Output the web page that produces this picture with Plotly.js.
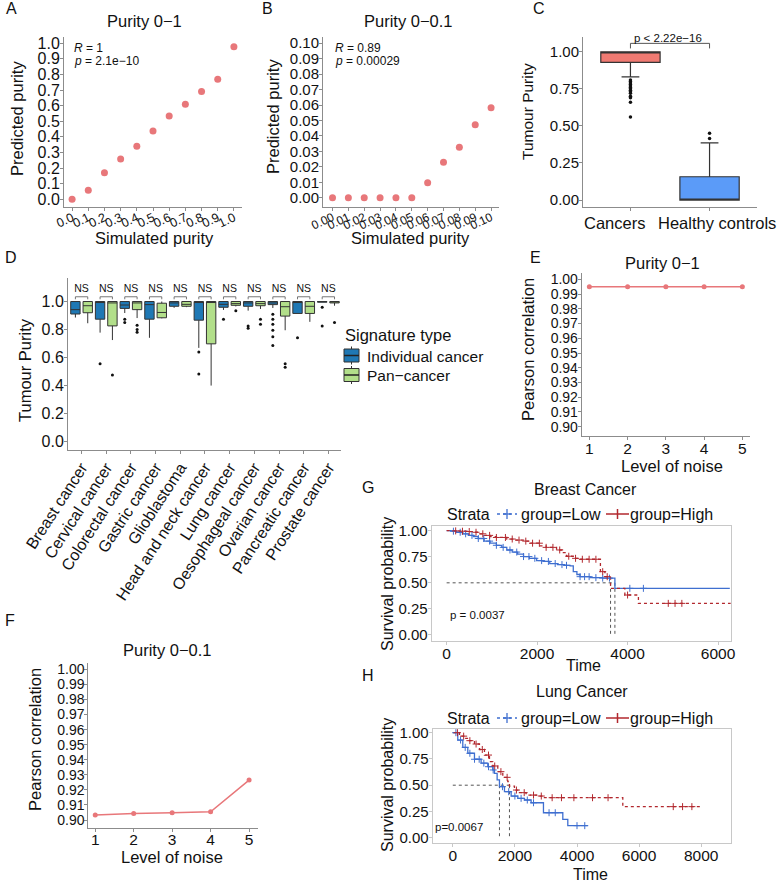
<!DOCTYPE html>
<html><head><meta charset="utf-8">
<script src="https://cdn.plot.ly/plotly-3.0.1.min.js"></script>
<style>html,body{margin:0;padding:0;background:#fff}#chart{width:778px;height:883px}</style>
</head><body><div id="chart"></div>
<script>
// ---------- Panel A ----------
const simA = [0.0,0.1,0.2,0.3,0.4,0.5,0.6,0.7,0.8,0.9,1.0];
const predA = [0.0,0.058,0.17,0.258,0.34,0.438,0.534,0.609,0.69,0.769,0.978];
// ---------- Panel B ----------
const simB = [0.00,0.01,0.02,0.03,0.04,0.05,0.06,0.07,0.08,0.09,0.10];
const predB = [0,0,0,0,0,0,0.0097,0.0229,0.0326,0.0473,0.0583];
// ---------- Panel C ----------
const groupsC = ['Cancers','Healthy controls'];
const q1C = [0.929, 0.0];
const medC = [1.0, 0.0];
const q3C = [1.0, 0.157];
const lowC = [0.831, 0.0];
const upC = [1.0, 0.386];
const outCancers = [0.81,0.80,0.79,0.78,0.77,0.76,0.75,0.74,0.73,0.72,0.70,0.69,0.66,0.56];
const outHealthy = [0.416,0.45];
// ---------- Panel D ----------
const cancersD = ['Breast cancer','Cervical cancer','Colorectal cancer','Gastric cancer','Glioblastoma','Head and neck cancer','Lung cancer','Oesophageal cancer','Ovarian cancer','Pancreatic cancer','Prostate cancer'];
const signatureTypes = ['Individual cancer','Pan\u2212cancer'];
const indQ1 = [0.911,0.874,0.951,0.874,0.966,0.867,0.959,0.966,0.978,0.915,0.995];
const indMed = [0.942,0.995,0.975,0.978,0.99,0.998,0.98,0.99,0.99,0.998,1.0];
const indQ3 = [1,1,1,1,1,1,1,1,1,1,1];
const indLow = [0.886,0.778,0.918,0.741,0.955,0.669,0.94,0.935,0.954,0.915,0.995];
const indUp = [1,1,1,1,1,1,1,1,1,1,1];
const indOut = [[],[0.556],[0.874,0.85],[],[],[0.64,0.483],[0.874],[0.826,0.81],[0.91,0.874,0.838,0.795,0.749,0.686],[0.741],[0.96,0.826]];
const panQ1 = [0.92,0.826,0.942,0.884,0.966,0.698,0.973,0.97,0.896,0.915,0.99];
const panMed = [0.97,0.99,0.99,0.922,0.98,1.0,0.985,0.985,0.963,0.966,1.0];
const panQ3 = [1,1,1,0.988,1,1,1,1,1,1,1];
const panLow = [0.845,0.725,0.882,0.88,0.96,0.40,0.965,0.947,0.795,0.855,0.97];
const panUp = [1,1,1,1,1,1,1,1,1,1,1];
const panOut = [[],[0.476],[0.83,0.80,0.78],[],[],[],[0.935],[0.874,0.838],[0.556,0.53],[],[0.85]];
const sigD = ['NS','NS','NS','NS','NS','NS','NS','NS','NS','NS','NS'];
// ---------- Panel E / F ----------
const noiseLevels = [1,2,3,4,5];
const corrE = [0.995,0.995,0.995,0.995,0.995];
const corrF = [0.9033,0.9044,0.9048,0.9055,0.9265];
// ---------- Panel G (Breast) ----------
const strata = ['group=Low','group=High'];
const gLowT = [0,100,220,350,480,590,700,830,960,1100,1220,1330,1450,1570,1700,1830,1990,2130,2280,2450,2600,2730,2800,2880,2950,3170,3450,3720,6260];
const gLowS = [1.0,0.995,0.985,0.97,0.955,0.943,0.925,0.9,0.88,0.86,0.84,0.815,0.795,0.775,0.752,0.735,0.713,0.705,0.685,0.675,0.668,0.662,0.607,0.58,0.559,0.55,0.545,0.447,0.447];
const gHighT = [0,150,300,450,590,700,830,960,1100,1330,1500,1700,1850,2060,2200,2430,2550,2650,2800,2950,3380,3400,3500,3624,3940,4240,6330];
const gHighS = [1.0,0.998,0.995,0.992,0.985,0.97,0.955,0.943,0.935,0.92,0.91,0.9,0.88,0.855,0.84,0.815,0.79,0.755,0.735,0.726,0.726,0.607,0.559,0.447,0.383,0.303,0.303];
const gLowCens = [150,300,420,560,700,820,950,1100,1250,1400,1550,1700,1820,1950,2100,2250,2400,2550,2650,2950,3050,3150,3300,3450,3600,4050,4350];
const gHighCens = [200,350,500,650,800,950,1100,1300,1450,1600,1750,1900,2050,2200,2350,2500,2700,2850,3000,3150,3300,3450,3550,4000,4900,5050,5200];
// ---------- Panel H (Lung) ----------
const hLowT = [0,161,322,483,698,912,1127,1288,1342,1428,1503,1664,1879,2093,2308,2523,2920,3543,3704,4348];
const hLowS = [1.0,0.93,0.86,0.804,0.747,0.71,0.676,0.645,0.613,0.55,0.486,0.438,0.397,0.375,0.359,0.333,0.238,0.175,0.115,0.115];
const hHighT = [0,215,376,537,698,859,1020,1181,1288,1449,1610,1771,1825,1986,2147,2362,2737,2952,5421,5475,7998];
const hHighS = [1.0,0.967,0.946,0.924,0.892,0.84,0.787,0.724,0.683,0.629,0.575,0.534,0.492,0.454,0.429,0.406,0.397,0.381,0.381,0.296,0.296];
const hLowCens = [100,250,400,550,700,850,1000,1150,1300,1600,1800,2000,2200,2400,2600,3100,3300,4000,4250];
const hHighCens = [150,350,550,750,950,1150,1350,1550,1750,2050,2300,2600,2850,3200,3500,3900,4500,5000,7100,7400,7700];

// ---------- helpers ----------
const W = 778, H = 883;
const px = x => x / W, py = y => 1 - y / H;
const FONT = 'Liberation Sans, Arial, sans-serif';
const TXT = '#111';
const salmon = '#E8777A';
const blueKM = '#3F6FD0', redKM = '#B2282E';
const indCol = '#1F78B4', panCol = '#B2DF8A';

function stepAt(T, S, t) { let v = S[0]; for (let i = 0; i < T.length; i++) { if (T[i] <= t) v = S[i]; } return v; }
function medianTime(T, S) { for (let i = 0; i < T.length; i++) { if (S[i] <= 0.5) return T[i]; } return null; }

const base = {showline:true, linecolor:'#8c8c8c', linewidth:1, ticks:'outside', ticklen:3, tickcolor:'#8c8c8c',
  showgrid:false, zeroline:false, tickfont:{size:15.5, color:TXT, family:FONT}, fixedrange:true};
function ax(o) { return Object.assign({}, base, o); }

const traces = [];
// A
traces.push({type:'scatter', mode:'markers', x:simA, y:predA, xaxis:'x', yaxis:'y', marker:{size:7, color:salmon}, showlegend:false});
// B
traces.push({type:'scatter', mode:'markers', x:simB, y:predB, xaxis:'x2', yaxis:'y2', marker:{size:7, color:salmon}, showlegend:false});
// C
const fillC = ['#F07A72', '#5B9BF8'];
groupsC.forEach((g, i) => {
  traces.push({type:'box', orientation:'v', x:[i], q1:[q1C[i]], median:[medC[i]], q3:[q3C[i]], lowerfence:[lowC[i]], upperfence:[upC[i]],
    width:0.75, whiskerwidth:0.3, boxpoints:false, fillcolor:fillC[i], line:{color:'#333', width:1.2}, xaxis:'x3', yaxis:'y3', showlegend:false, name:g});
});
traces.push({type:'scatter', mode:'markers', x:outCancers.map(() => 0).concat(outHealthy.map(() => 1)), y:outCancers.concat(outHealthy),
  xaxis:'x3', yaxis:'y3', marker:{size:3.5, color:'#111'}, showlegend:false});
traces.push({type:'scatter', mode:'lines', x:[0,0,1,1], y:[1.023,1.057,1.057,1.023], xaxis:'x3', yaxis:'y3', line:{color:'#555', width:1}, showlegend:false});
// D
const idx = cancersD.map((_, i) => i);
traces.push({type:'box', orientation:'v', name:signatureTypes[0], x:idx.map(i => i - 0.25), q1:indQ1, median:indMed, q3:indQ3, lowerfence:indLow, upperfence:indUp,
  width:0.38, whiskerwidth:0, boxpoints:false, fillcolor:indCol, line:{color:'#333', width:1}, xaxis:'x4', yaxis:'y4', showlegend:false});
traces.push({type:'box', orientation:'v', name:signatureTypes[1], x:idx.map(i => i + 0.25), q1:panQ1, median:panMed, q3:panQ3, lowerfence:panLow, upperfence:panUp,
  width:0.38, whiskerwidth:0, boxpoints:false, fillcolor:panCol, line:{color:'#333', width:1}, xaxis:'x4', yaxis:'y4', showlegend:false});
const oX = [], oY = [];
idx.forEach(i => { indOut[i].forEach(v => { oX.push(i - 0.25); oY.push(v); }); panOut[i].forEach(v => { oX.push(i + 0.25); oY.push(v); }); });
traces.push({type:'scatter', mode:'markers', x:oX, y:oY, xaxis:'x4', yaxis:'y4', marker:{size:3, color:'#111'}, showlegend:false});
const bX = [], bY = [];
idx.forEach(i => { bX.push(i - 0.25, i - 0.25, i + 0.25, i + 0.25, null); bY.push(1.016, 1.034, 1.034, 1.016, null); });
traces.push({type:'scatter', mode:'lines', x:bX, y:bY, xaxis:'x4', yaxis:'y4', line:{color:'#555', width:0.8}, showlegend:false});
traces.push({type:'scatter', mode:'text', x:idx, y:idx.map(() => 1.087), text:sigD, textfont:{size:10.5, color:TXT, family:FONT}, xaxis:'x4', yaxis:'y4', showlegend:false});
// E, F
traces.push({type:'scatter', mode:'lines+markers', x:noiseLevels, y:corrE, xaxis:'x5', yaxis:'y5', line:{color:salmon, width:1.5}, marker:{size:5, color:salmon}, showlegend:false});
traces.push({type:'scatter', mode:'lines+markers', x:noiseLevels, y:corrF, xaxis:'x6', yaxis:'y6', line:{color:salmon, width:1.5}, marker:{size:5, color:salmon}, showlegend:false});

// KM panels
function kmPanel(xa, ya, lowT, lowS, highT, highS, lowC, highC) {
  const mLow = medianTime(lowT, lowS), mHigh = medianTime(highT, highS);
  const mMax = Math.max(mLow, mHigh);
  traces.push({type:'scatter', mode:'lines', x:[0, mMax, null, mLow, mLow, null, mHigh, mHigh], y:[0.5, 0.5, null, 0.5, 0, null, 0.5, 0],
    xaxis:xa, yaxis:ya, line:{color:'#555', width:1, dash:'dot'}, showlegend:false});
  traces.push({type:'scatter', mode:'lines', x:lowT, y:lowS, xaxis:xa, yaxis:ya, line:{color:blueKM, width:1.3, shape:'hv'}, showlegend:false});
  traces.push({type:'scatter', mode:'lines', x:highT, y:highS, xaxis:xa, yaxis:ya, line:{color:redKM, width:1.3, shape:'hv', dash:'dot'}, showlegend:false});
  traces.push({type:'scatter', mode:'markers', x:lowC, y:lowC.map(t => stepAt(lowT, lowS, t)), xaxis:xa, yaxis:ya,
    marker:{symbol:'cross-thin', size:5, line:{width:1, color:blueKM}, color:blueKM}, showlegend:false});
  traces.push({type:'scatter', mode:'markers', x:highC, y:highC.map(t => stepAt(highT, highS, t)), xaxis:xa, yaxis:ya,
    marker:{symbol:'cross-thin', size:5, line:{width:1, color:redKM}, color:redKM}, showlegend:false});
}
kmPanel('x7', 'y7', gLowT, gLowS, gHighT, gHighS, gLowCens, gHighCens);
kmPanel('x8', 'y8', hLowT, hLowS, hHighT, hHighS, hLowCens, hHighCens);

// ---------- annotations ----------
const ann = [];
function txt(text, x, y, size, o) { ann.push(Object.assign({text, x:px(x), y:py(y), xref:'paper', yref:'paper', showarrow:false,
  font:{size, color:TXT, family:FONT}, xanchor:'center', yanchor:'middle'}, o || {})); }
// letters
txt('A', 4, 9, 16, {xanchor:'left'}); txt('B', 260, 9, 16, {xanchor:'left'}); txt('C', 531, 9, 16, {xanchor:'left'});
txt('D', 3, 257, 16, {xanchor:'left'}); txt('E', 528, 257, 16, {xanchor:'left'}); txt('F', 3, 620, 16, {xanchor:'left'});
txt('G', 360, 487, 16, {xanchor:'left'}); txt('H', 360, 675, 16, {xanchor:'left'});
// titles
txt('Purity 0\u22121', 144, 21, 16.5); txt('Purity 0\u22120.1', 408, 21, 16.5);
txt('Purity 0\u22121', 662, 263, 16.5); txt('Purity 0\u22120.1', 167, 650, 16.5);
txt('Breast Cancer', 585, 489, 16); txt('Lung Cancer', 582, 691, 16);
// axis titles
txt('Simulated purity', 154, 238, 16.5); txt('Simulated purity', 410, 238, 16.5);
txt('Predicted purity', 17, 119, 16.5, {textangle:-90}); txt('Predicted purity', 273, 117, 16.5, {textangle:-90});
txt('Tumour Purity', 527, 112, 15.5, {textangle:-90});
txt(groupsC[0], 614, 223, 16.5); txt(groupsC[1], 717, 223, 16.5);
txt('Tumour Purity', 25, 370, 16.5, {textangle:-90});
txt('Pearson correlation', 528, 350, 16.5, {textangle:-90}); txt('Level of noise', 672, 466, 16.5);
txt('Pearson correlation', 35, 740, 16.5, {textangle:-90}); txt('Level of noise', 172, 857, 16.5);
txt('Survival probability', 387, 584, 16, {textangle:-90}); txt('Time', 583, 665, 16);
txt('Survival probability', 387, 785, 16, {textangle:-90}); txt('Time', 590, 874, 16);
// stats
txt('<i>R</i> = 1', 72, 48, 12, {xanchor:'left'}); txt('<i>p</i> = 2.1e\u221210', 72, 61, 12, {xanchor:'left'});
txt('<i>R</i> = 0.89', 333, 48, 12, {xanchor:'left'}); txt('<i>p</i> = 0.00029', 333, 61, 12, {xanchor:'left'});
txt('p < 2.22e\u221216', 668, 38, 11.5);
txt('p = 0.0037', 477, 615, 11.5); txt('p=0.0067', 459, 827, 11.5);

// ---------- manual legends ----------
const shapes = [];
function pline(x0, y0, x1, y1, color, width, dash) {
  shapes.push({type:'line', xref:'paper', yref:'paper', x0:px(x0), y0:py(y0), x1:px(x1), y1:py(y1), line:{color, width, dash:dash || 'solid'}});
}
function prect(x0, y0, x1, y1, fill) {
  shapes.push({type:'rect', xref:'paper', yref:'paper', x0:px(x0), y0:py(y0), x1:px(x1), y1:py(y1), fillcolor:fill, line:{color:'#333', width:1}});
}
// D legend
txt('Signature type', 343, 335, 16.5, {xanchor:'left'});
[[indCol, 349, 362], [panCol, 368.5, 381.5]].forEach(([c, t, b], k) => {
  pline(351.5, t - 2.5, 351.5, t, '#333', 1); pline(351.5, b, 351.5, b + 2.5, '#333', 1);
  prect(344, t, 359, b, c); pline(344, (t + b) / 2, 359, (t + b) / 2, '#222', 1.5);
  txt(signatureTypes[k], 365, (t + b) / 2 + 0.5, 15.5, {xanchor:'left'});
});
// KM legends
function kmLegend(y) {
  txt('Strata', 445, y, 16, {xanchor:'left'});
  pline(497, y, 517, y, blueKM, 1.3, 'dot'); pline(503, y, 511, y, blueKM, 1.3); pline(507, y - 5, 507, y + 5, blueKM, 1.3);
  txt(strata[0], 519, y, 16, {xanchor:'left'});
  pline(606, y, 629, y, redKM, 1.5); pline(617.5, y - 5, 617.5, y + 5, redKM, 1.5);
  txt(strata[1], 628, y, 16, {xanchor:'left'});
}
kmLegend(514); kmLegend(718);

const kmAx = {mirror:true, linecolor:'#c8c8c8', tickcolor:'#c8c8c8'};
const layout = {
  width:W, height:H, margin:{l:0, r:0, t:0, b:0}, paper_bgcolor:'#fff', plot_bgcolor:'rgba(0,0,0,0)',
  font:{family:FONT, color:TXT}, showlegend:false,
  xaxis: ax({domain:[px(64), px(242)], range:[-0.05, 1.05], tickvals:simA, tickformat:'.1f', tickangle:-25, tickfont:{size:12.5, color:TXT}, ticklabelstandoff:-5, anchor:'y'}),
  yaxis: ax({domain:[py(207), py(37)], range:[-0.05, 1.04], tick0:0, dtick:0.1, tickformat:'.1f', tickfont:{size:16, color:TXT}, ticklabelstandoff:-3, anchor:'x'}),
  xaxis2: ax({domain:[px(323), px(499)], range:[-0.006, 0.105], tickvals:simB, tickformat:'.2f', tickangle:-25, tickfont:{size:12, color:TXT}, ticklabelstandoff:-5, anchor:'y2'}),
  yaxis2: ax({domain:[py(207), py(37)], range:[-0.006, 0.104], tick0:0, dtick:0.01, tickformat:'.2f', tickfont:{size:15, color:TXT}, ticklabelstandoff:-3, anchor:'x2'}),
  xaxis3: ax({domain:[px(583), px(757)], range:[-0.6, 1.6], tickvals:[0, 1], showticklabels:false, anchor:'y3'}),
  yaxis3: ax({domain:[py(207), py(37)], range:[-0.047, 1.10], tickvals:[0, 0.25, 0.5, 0.75, 1], tickformat:'.2f', tickfont:{size:15, color:TXT}, ticklabelstandoff:-3, anchor:'x3'}),
  xaxis4: ax({domain:[px(68), px(340.7)], range:[-0.55, 10.5], tickvals:idx, ticktext:cancersD, tickangle:-57, tickfont:{size:16, color:TXT}, ticklabelstandoff:-2, anchor:'y4'}),
  yaxis4: ax({domain:[py(450), py(278)], range:[-0.06, 1.168], tick0:0, dtick:0.2, tickformat:'.1f', tickfont:{size:16, color:TXT}, ticklabelstandoff:-3, anchor:'x4'}),
  xaxis5: ax({domain:[px(581.7), px(750)], range:[0.8, 5.2], tickvals:noiseLevels, ticklabelstandoff:-5, anchor:'y5'}),
  yaxis5: ax({domain:[py(436), py(273)], range:[0.8937, 1.0043], tick0:0.9, dtick:0.01, tickformat:'.2f', tickfont:{size:14, color:TXT}, ticklabelstandoff:-3, anchor:'x5'}),
  xaxis6: ax({domain:[px(88.3), px(258.3)], range:[0.82, 5.24], tickvals:noiseLevels, ticklabelstandoff:-6, anchor:'y6'}),
  yaxis6: ax({domain:[py(828.3), py(663.3)], range:[0.8945, 1.004], tick0:0.9, dtick:0.01, tickformat:'.2f', tickfont:{size:14, color:TXT}, ticklabelstandoff:-3, anchor:'x6'}),
  xaxis7: ax(Object.assign({domain:[px(431.7), px(730.7)], range:[-330, 6280], tickvals:[0, 2000, 4000, 6000], ticklabelstandoff:-5, anchor:'y7'}, kmAx)),
  yaxis7: ax(Object.assign({domain:[py(641), py(526)], range:[-0.058, 1.045], tickvals:[0, 0.25, 0.5, 0.75, 1], tickformat:'.2f', tickfont:{size:15, color:TXT}, ticklabelstandoff:-3, anchor:'x7'}, kmAx)),
  xaxis8: ax(Object.assign({domain:[px(432.7), px(730.7)], range:[-647, 8950], tickvals:[0, 2000, 4000, 6000, 8000], ticklabelstandoff:-5, anchor:'y8'}, kmAx)),
  yaxis8: ax(Object.assign({domain:[py(843.3), py(729)], range:[-0.053, 1.035], tickvals:[0, 0.25, 0.5, 0.75, 1], tickformat:'.2f', tickfont:{size:15, color:TXT}, ticklabelstandoff:-3, anchor:'x8'}, kmAx)),
  annotations: ann,
  shapes: shapes
};
Plotly.newPlot('chart', traces, layout, {displayModeBar:false, staticPlot:true});
</script>
</body></html>
